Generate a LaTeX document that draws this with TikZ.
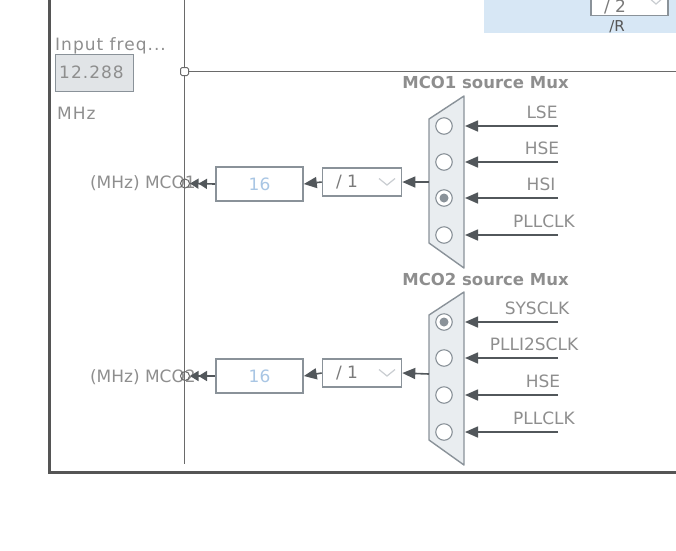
\documentclass[tikz,border=0pt]{standalone}
\usepackage{fontspec}
\setmainfont{DejaVu Sans}
\usetikzlibrary{arrows.meta}
\definecolor{framec}{HTML}{555555}
\definecolor{wire}{HTML}{6A6A6A}
\definecolor{txt}{HTML}{8E8E8E}
\definecolor{boxline}{HTML}{8A9299}
\definecolor{muxfill}{HTML}{E9EDF0}
\definecolor{valblue}{HTML}{A9C6E4}
\definecolor{panelblue}{HTML}{D7E7F5}
\definecolor{chev}{HTML}{C9CDD1}
\definecolor{arrowc}{HTML}{52575B}
\definecolor{infill}{HTML}{E1E4E7}
\definecolor{divtxt}{HTML}{7A7A7A}
\begin{document}
\begin{tikzpicture}[x=1pt,y=-1pt,
  lbl/.style={text=txt,font=\fontsize{17}{20}\selectfont,inner sep=0pt},
  spc/.style={text=txt,font=\fontsize{17}{20}\selectfont\addfontfeatures{LetterSpace=6},inner sep=0pt},
  ttl/.style={text=txt,font=\fontsize{16.5}{20}\selectfont\bfseries,inner sep=0pt},
  sig/.style={draw=arrowc,line width=1.6pt,-{Triangle[length=13pt,width=11pt]}},
  dsig/.style={draw=arrowc,line width=1.6pt,-{Triangle[length=8.5pt,width=10pt]Triangle[length=8.5pt,width=10pt]}},
  muxst/.style={draw=boxline,fill=muxfill,line width=1.4pt,line join=round},
  sel/.style={circle,draw=boxline,fill=white,line width=1.1pt,minimum size=16.5pt,inner sep=0pt},
  valbox/.style={draw=boxline,line width=1.6pt,fill=white,minimum width=87pt,minimum height=34pt,text=valblue,font=\fontsize{17}{20}\selectfont},
  divbox/.style={draw=boxline,line width=1.6pt,fill=white,minimum width=79pt,minimum height=28pt,inner sep=0pt},
  chevst/.style={draw=chev,line width=1.2pt},
  pin/.style={circle,draw=wire,fill=none,line width=1pt,minimum size=9pt,inner sep=0pt}]
\useasboundingbox (0,0) rectangle (676,550);
\clip (0,0) rectangle (676,550);

% top-right panel
\fill[panelblue] (484,-2) rectangle (678,33);
\draw[boxline,line width=1.6pt,fill=white] (591,-6) rectangle (668,15.5);
\node[lbl,text=divtxt,anchor=base] (r2) at (615,12) {/ 2};
\draw[chevst] (648,-3) -- (656,4) -- (664,-3);
\node[lbl,text=framec,font=\fontsize{15}{18}\selectfont,anchor=base] (rlab) at (617,31.5) {/R};

% frame and main wires
\draw[framec,line width=3pt] (49.5,-2) -- (49.5,472) -- (680,472);
\draw[wire,line width=1pt] (184.5,-2) -- (184.5,464);
\node[draw=wire,fill=white,line width=1pt,minimum size=8pt,inner sep=0pt,rounded corners=1.5pt] (jn) at (184.5,71.5) {};
\coordinate (jend) at (680,71.5);
\draw[wire,line width=1pt] (jn.east) -- (jend);

% input frequency
\node[spc,anchor=base west] (inlab) at (55,50) {Input freq...};
\node[draw=boxline,line width=1.6pt,fill=infill,minimum width=78pt,minimum height=37pt,anchor=north west,inner sep=0pt] (inbox) at (54.5,53.5) {};
\node[spc,anchor=base west] (inval) at (59,78) {12.288};
\node[spc,anchor=base west] (mhz) at (57,119) {MHz};

% ---------------- MCO1 ----------------
\node[ttl,anchor=base] (t1) at (485.5,88) {MCO1 source Mux};
\draw[muxst] (464,96) -- (429,119) -- (429,243) -- (464,268) -- cycle;
\foreach \y/\name/\lab/\lx in {126/a/LSE/542,162/b/HSE/542,198/c/HSI/541,235/d/PLLCLK/544}{
  \node[sel] (m1\name) at (444,\y) {};
  \coordinate (s1\name) at (558,\y);
  \coordinate (e1\name) at (465,\y);
  \draw[sig] (s1\name) -- (e1\name);
  \node[lbl,anchor=base] (l1\name) at (\lx,\y-7.5) {\lab};
}
\fill[boxline] (m1c) circle (4.5pt);
\coordinate (mo1) at (429,182);
\node[divbox] (d1) at (362,182) {};
\node[lbl,text=divtxt,anchor=center] (d1t) at (347,182) {/ 1};
\draw[chevst] (379,178.5) -- (387,185) -- (395,178.5);
\node[valbox] (v1) at (259.5,184) {16};
\draw[sig] (mo1) -- (d1.east);
\draw[sig] (d1.west) -- (v1.east);
\node[lbl,anchor=base east] (o1) at (196,188) {(MHz) MCO1};
\node[pin] (p1) at (185,183.5) {};
\draw[dsig] (v1.west) -- (p1.east);

% ---------------- MCO2 ----------------
\node[ttl,anchor=base] (t2) at (485.5,285) {MCO2 source Mux};
\draw[muxst] (464,292) -- (429,315) -- (429,440) -- (464,465) -- cycle;
\foreach \y/\name/\lab/\lx in {322/a/SYSCLK/537,358/b/PLLI2SCLK/534,395/c/HSE/543,432/d/PLLCLK/544}{
  \node[sel] (m2\name) at (444,\y) {};
  \coordinate (s2\name) at (558,\y);
  \coordinate (e2\name) at (465,\y);
  \draw[sig] (s2\name) -- (e2\name);
  \node[lbl,anchor=base] (l2\name) at (\lx,\y-7.5) {\lab};
}
\fill[boxline] (m2a) circle (4.5pt);
\coordinate (mo2) at (429,374);
\node[divbox] (d2) at (362,373) {};
\node[lbl,text=divtxt,anchor=center] (d2t) at (347,373) {/ 1};
\draw[chevst] (379,369.5) -- (387,376) -- (395,369.5);
\node[valbox] (v2) at (259.5,376) {16};
\draw[sig] (mo2) -- (d2.east);
\draw[sig] (d2.west) -- (v2.east);
\node[lbl,anchor=base east] (o2) at (196,382) {(MHz) MCO2};
\node[pin] (p2) at (185,376) {};
\draw[dsig] (v2.west) -- (p2.east);
\end{tikzpicture}
\end{document}
